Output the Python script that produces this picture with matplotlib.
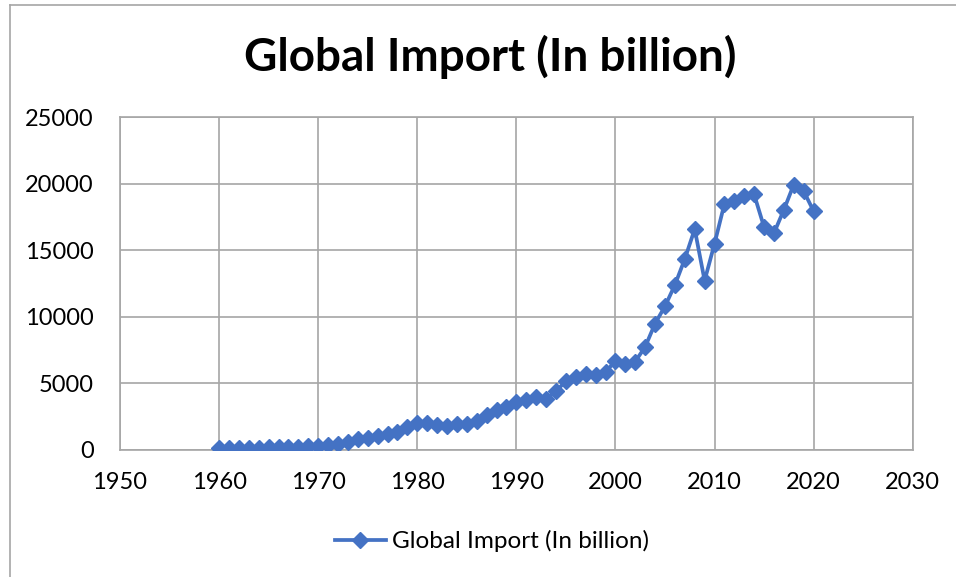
import matplotlib
matplotlib.use("Agg")
import matplotlib.pyplot as plt
from matplotlib.lines import Line2D

plt.rcParams['font.family'] = ['Lato', 'DejaVu Sans']

years = list(range(1960, 2021))
imports = [
    130, 137, 145, 158, 178, 193, 210, 220, 242, 278,
    330, 360, 430, 580, 810, 920, 1030, 1180, 1370, 1700,
    2030, 2050, 1900, 1800, 1950, 1930, 2200, 2600, 3000, 3250,
    3580, 3720, 3950, 3850, 4400, 5200, 5450, 5700, 5600, 5850,
    6700, 6450, 6650, 7750, 9500, 10800, 12400, 14350, 16600, 12730,
    15500, 18500, 18700, 19050, 19200, 16750, 16300, 18050, 19950, 19450,
    17950,
]
series_name = "Global Import (In billion)"
title = "Global Import (In billion)"
x_ticks = [1950, 1960, 1970, 1980, 1990, 2000, 2010, 2020, 2030]
y_ticks = [0, 5000, 10000, 15000, 20000, 25000]

W, H = 956, 577
fig = plt.figure(figsize=(W / 100, H / 100), dpi=100)
fig.patch.set_facecolor('white')

# chart-area border (left and top edges)
border = '#A6A6A6'
fig.add_artist(Line2D([10 / W, 10 / W], [0, 1 - 5 / H], color=border, lw=1.2,
                      transform=fig.transFigure))
fig.add_artist(Line2D([10 / W, 1], [1 - 5 / H, 1 - 5 / H], color=border, lw=1.2,
                      transform=fig.transFigure))

left, right = 120 / W, 912.7 / W
bottom, top = 1 - 450 / H, 1 - 117.3 / H
ax = fig.add_axes([left, bottom, right - left, top - bottom])

blue = '#4472C4'
ax.plot(years, imports, color=blue, lw=2.7, marker='D', markersize=8.3,
        markerfacecolor=blue, markeredgecolor=blue, label=series_name,
        solid_joinstyle='round', zorder=3)

ax.set_xlim(1950, 2030)
ax.set_ylim(0, 25000)
ax.set_xticks(x_ticks)
ax.set_yticks(y_ticks)
ax.grid(True, color='#A6A6A6', lw=1.2)
ax.set_axisbelow(True)
for s in ax.spines.values():
    s.set_color('#A6A6A6')
    s.set_linewidth(1.2)
ax.tick_params(axis='both', length=0, labelsize=17, colors='black')
ax.tick_params(axis='x', pad=16)
ax.tick_params(axis='y', pad=19)

fig.text(490 / W, 1 - 57 / H, title, ha='center', va='center',
         fontsize=33, fontweight='bold')

fig.legend(loc='center', bbox_to_anchor=(492 / W, 1 - 541 / H), frameon=False,
           fontsize=17.5, handlelength=2.1, handletextpad=0.25)

fig.savefig('out.png', dpi=100, facecolor='white')
